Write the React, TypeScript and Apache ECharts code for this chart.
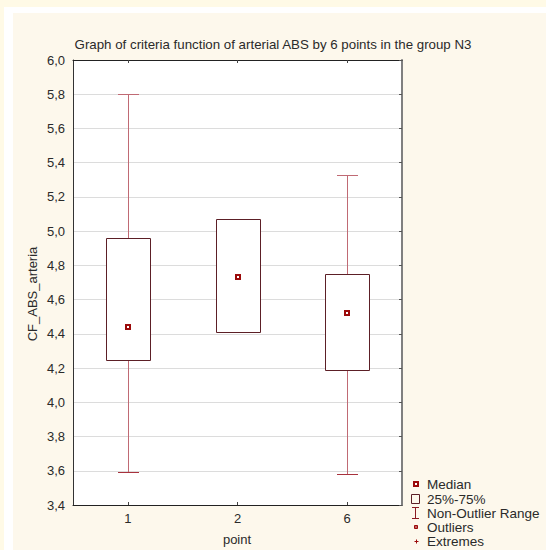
import React, { useEffect, useRef } from "react";
import * as echarts from "echarts";

const categories = ["1", "2", "6"];
const minValues = [3.59, 4.41, 3.58];
const q1Values = [4.25, 4.41, 4.19];
const medianValues = [4.44, 4.73, 4.52];
const q3Values = [4.96, 5.07, 4.75];
const maxValues = [5.8, 5.07, 5.33];

const yMin = 3.4;
const yMax = 6.0;
const yStep = 0.2;

const titleText = "Graph of criteria function of arterial ABS by 6 points in the group N3";
const yAxisName = "CF_ABS_arteria";
const xAxisName = "point";
const legendLabels = ["Median", "25%-75%", "Non-Outlier Range", "Outliers", "Extremes"];

const FONT = "'Liberation Sans', Arial, sans-serif";
const BOX = "#5c1f26";
const WHISK = "#c06a74";
const MED = "#9b0a0a";
const TXT = "#2a2a2a";

export default function App() {
  const ref = useRef<HTMLDivElement>(null);

  useEffect(() => {
    if (!ref.current) return;
    const chart = echarts.init(ref.current, null, { renderer: "svg" });
    const data = categories.map((_, i) => [
      i,
      minValues[i],
      q1Values[i],
      medianValues[i],
      q3Values[i],
      maxValues[i],
    ]);
    const r = (v: number) => Math.round(v) + 0.5;

    const legendY = [484, 499, 513, 527, 541];

    chart.setOption({
      animation: false,
      backgroundColor: "transparent",
      grid: {
        left: 73,
        top: 60,
        width: 329,
        height: 445,
        show: true,
        backgroundColor: "#ffffff",
        borderWidth: 0,
      },
      xAxis: [
        {
          type: "category",
          data: categories,
          position: "bottom",
          axisLine: { lineStyle: { color: "#222", width: 1 } },
          axisTick: { show: true, inside: true, alignWithLabel: true, length: 3, lineStyle: { color: "#444" } },
          axisLabel: { color: TXT, fontSize: 13, fontFamily: FONT, margin: 7 },
          splitLine: { show: false },
        },
        {
          type: "category",
          data: categories,
          position: "top",
          axisLine: { lineStyle: { color: "#222", width: 1 } },
          axisTick: { show: true, inside: true, alignWithLabel: true, length: 3, lineStyle: { color: "#444" } },
          axisLabel: { show: false },
          splitLine: { show: false },
        },
      ],
      yAxis: [
        {
          type: "value",
          min: yMin,
          max: yMax,
          interval: yStep,
          position: "left",
          axisLine: { show: true, lineStyle: { color: "#333", width: 1 } },
          axisTick: { show: false },
          axisLabel: {
            color: TXT,
            fontSize: 13,
            fontFamily: FONT,
            margin: 8,
            formatter: (v: number) => v.toFixed(1).replace(".", ","),
          },
          splitLine: { show: true, lineStyle: { color: "#dcdcdc", width: 1 } },
        },
        {
          type: "value",
          min: yMin,
          max: yMax,
          interval: yStep,
          position: "right",
          axisLine: { show: true, lineStyle: { color: "#808080", width: 2 } },
          axisTick: { show: true, inside: true, length: 3, lineStyle: { color: "#555" } },
          axisLabel: { show: false },
          splitLine: { show: false },
        },
      ],
      series: [
        {
          type: "custom",
          xAxisIndex: 0,
          yAxisIndex: 0,
          data,
          encode: { x: 0, y: [1, 2, 3, 4, 5] },
          renderItem: (params: any, api: any) => {
            const i = api.value(0);
            const lo = api.coord([i, api.value(1)]);
            const b = api.coord([i, api.value(2)]);
            const m = api.coord([i, api.value(3)]);
            const t = api.coord([i, api.value(4)]);
            const hi = api.coord([i, api.value(5)]);
            const cx = r(lo[0]);
            const capHalf = 10.5;
            const boxHalf = 22;
            const wStyle = { stroke: WHISK, lineWidth: 1 };
            return {
              type: "group",
              children: [
                { type: "line", shape: { x1: cx, y1: r(t[1]), x2: cx, y2: r(hi[1]) }, style: wStyle },
                { type: "line", shape: { x1: cx, y1: r(b[1]), x2: cx, y2: r(lo[1]) }, style: wStyle },
                { type: "line", shape: { x1: cx - capHalf, y1: r(hi[1]), x2: cx + capHalf, y2: r(hi[1]) }, style: wStyle },
                { type: "line", shape: { x1: cx - capHalf, y1: r(lo[1]), x2: cx + capHalf, y2: r(lo[1]) }, style: { stroke: "#a8323d", lineWidth: 1 } },
                {
                  type: "rect",
                  shape: { x: cx - boxHalf, y: r(t[1]), width: boxHalf * 2, height: r(b[1]) - r(t[1]) },
                  style: { fill: "#ffffff", stroke: BOX, lineWidth: 1 },
                },
                {
                  type: "rect",
                  shape: { x: Math.round(m[0]) - 2, y: Math.round(m[1]) - 2, width: 4, height: 4 },
                  style: { fill: "#ffffff", stroke: MED, lineWidth: 2 },
                },
              ],
            };
          },
        },
      ],
      graphic: [
        {
          type: "text",
          x: 273,
          y: 44,
          style: { text: titleText, fontSize: 13.3, fontFamily: FONT, fill: TXT, align: "center", verticalAlign: "middle" },
        },
        {
          type: "text",
          x: 32,
          y: 294,
          rotation: Math.PI / 2,
          style: { text: yAxisName, fontSize: 13, fontFamily: FONT, fill: TXT, align: "center", verticalAlign: "middle" },
        },
        {
          type: "text",
          x: 237,
          y: 539,
          style: { text: xAxisName, fontSize: 13, fontFamily: FONT, fill: TXT, align: "center", verticalAlign: "middle" },
        },
        // legend symbols
        { type: "rect", shape: { x: 414, y: legendY[0] - 2, width: 4, height: 4 }, style: { fill: "#fff", stroke: MED, lineWidth: 2 } },
        { type: "rect", shape: { x: 411.5, y: legendY[1] - 4.5, width: 8, height: 9 }, style: { fill: "none", stroke: BOX, lineWidth: 1 } },
        { type: "line", shape: { x1: 415.5, y1: legendY[2] - 5.5, x2: 415.5, y2: legendY[2] + 5.5 }, style: { stroke: "#8b1a22", lineWidth: 1 } },
        { type: "line", shape: { x1: 412, y1: legendY[2] - 5.5, x2: 419, y2: legendY[2] - 5.5 }, style: { stroke: "#8b1a22", lineWidth: 1 } },
        { type: "line", shape: { x1: 412, y1: legendY[2] + 5.5, x2: 419, y2: legendY[2] + 5.5 }, style: { stroke: "#8b1a22", lineWidth: 1 } },
        { type: "rect", shape: { x: 414.5, y: legendY[3] - 1.5, width: 3, height: 3 }, style: { fill: "#c06060", stroke: MED, lineWidth: 1 } },
        { type: "line", shape: { x1: 414.5, y1: legendY[4] + 0.5, x2: 418.5, y2: legendY[4] + 0.5 }, style: { stroke: MED, lineWidth: 1 } },
        { type: "line", shape: { x1: 416.5, y1: legendY[4] - 1.5, x2: 416.5, y2: legendY[4] + 2.5 }, style: { stroke: MED, lineWidth: 1 } },
        ...legendLabels.map((t, k) => ({
          type: "text",
          x: 427,
          y: legendY[k],
          style: { text: t, fontSize: 13.5, lineHeight: 14, fontFamily: FONT, fill: TXT, align: "left", verticalAlign: "middle" },
        })),
      ],
    });
    return () => chart.dispose();
  }, []);

  return (
    <div style={{ position: "absolute", left: 0, top: 0, width: 546, height: 550, background: "#fffae6", overflow: "hidden" }}>
      <div style={{ position: "absolute", left: 4, top: 7, width: 542, height: 543, background: "#ffffff" }} />
      <div style={{ position: "absolute", left: 13, top: 13, width: 533, height: 537, background: "#fdf8ec" }} />
      <div ref={ref} style={{ position: "absolute", left: 0, top: 0, width: 546, height: 550 }} />
    </div>
  );
}
